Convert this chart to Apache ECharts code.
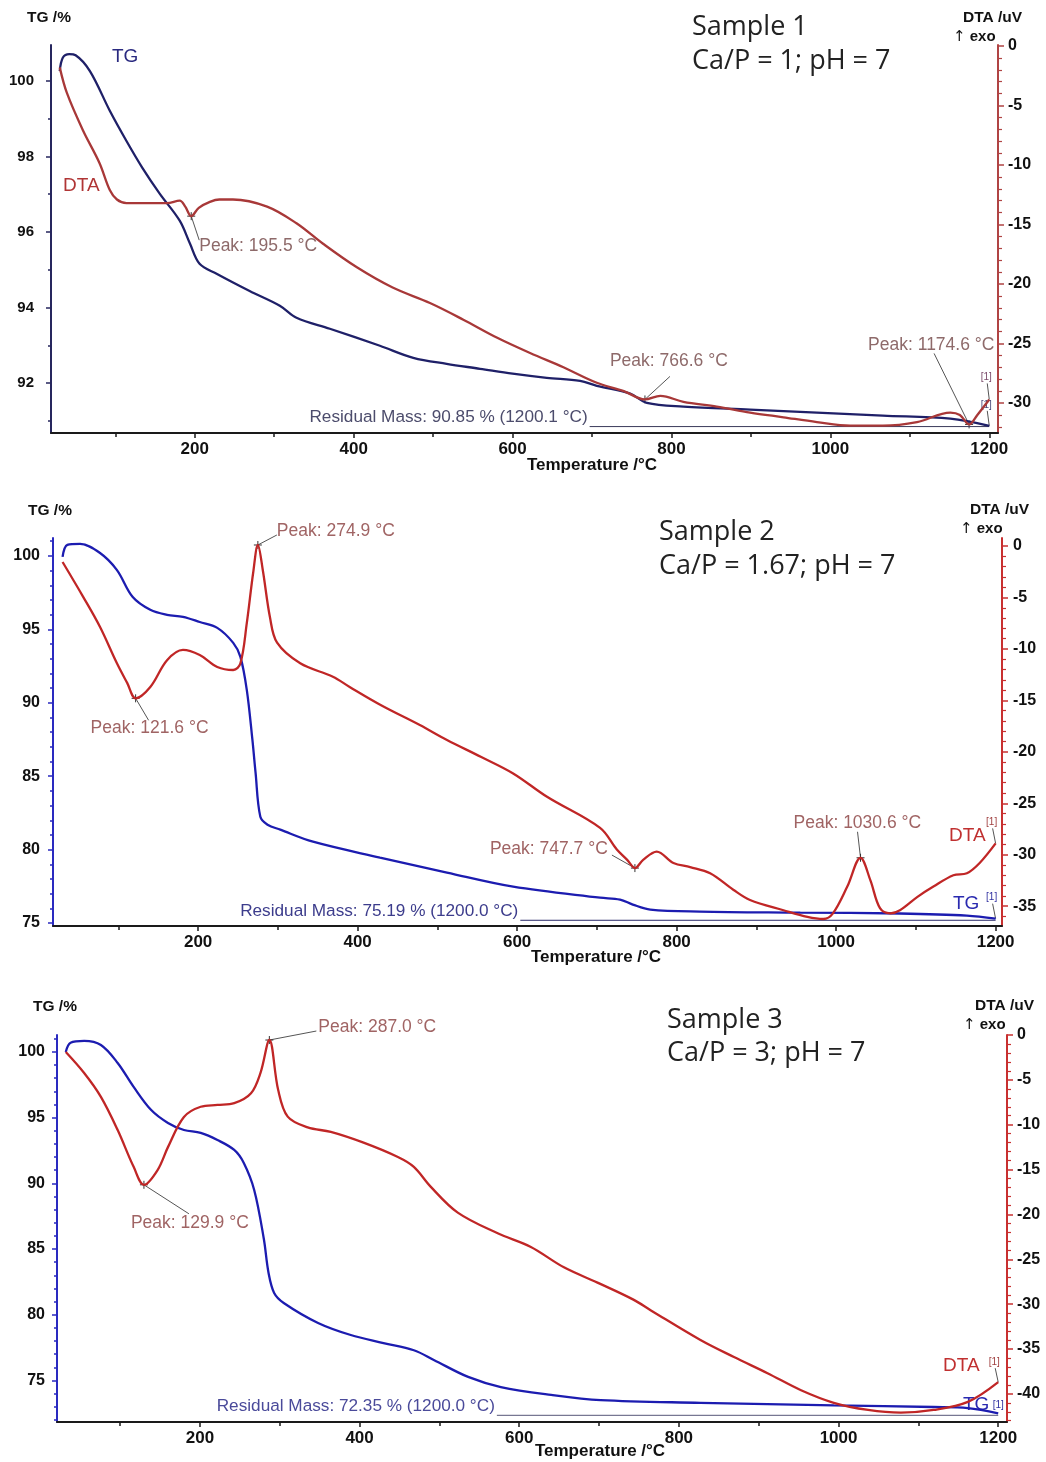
<!DOCTYPE html>
<html><head><meta charset="utf-8">
<script src="https://cdn.jsdelivr.net/npm/echarts@6/dist/echarts.min.js"></script>
<style>html,body{margin:0;padding:0;background:#fff}#c{width:1046px;height:1462px}</style>
</head><body><div id="c"></div>
<script>
// ---------- DATA ----------
const xLabelValues = [200, 400, 600, 800, 1000, 1200];
const xMinorValues = [100, 300, 500, 700, 900, 1100];

// Sample 1
const s1TgT = [30, 34, 42, 50, 68, 93, 114, 134, 156, 181, 194, 206, 228, 269, 307, 328, 370, 433, 475, 517, 559, 600, 643, 685, 706, 748, 769, 815, 899, 983, 1066, 1151, 1200];
const s1Tg  = [100.26, 100.62, 100.71, 100.68, 100.26, 99.21, 98.41, 97.70, 97.01, 96.30, 95.69, 95.16, 94.89, 94.44, 94.05, 93.73, 93.44, 92.99, 92.67, 92.51, 92.38, 92.25, 92.14, 92.06, 91.93, 91.72, 91.48, 91.38, 91.30, 91.22, 91.14, 91.06, 90.87];
const s1DtaT = [30, 39, 59, 80, 93, 102, 114, 140, 165, 181, 188, 195.5, 205, 219, 231, 248, 291, 328, 361, 404, 449, 496, 538, 580, 622, 664, 706, 740, 766.6, 786, 815, 857, 899, 941, 983, 1025, 1066, 1109, 1151, 1163, 1174.6, 1185, 1200];
const s1Dta  = [-1.8, -3.95, -7.06, -9.83, -12.1, -12.9, -13.2, -13.2, -13.2, -13.0, -13.5, -14.3, -13.6, -13.1, -12.9, -12.9, -13.5, -14.9, -16.6, -18.6, -20.3, -21.6, -23.0, -24.5, -25.8, -27.0, -28.3, -29.0, -29.7, -29.4, -29.9, -30.3, -30.8, -31.2, -31.6, -31.9, -31.9, -31.6, -30.8, -31.0, -31.8, -31.0, -29.7];
const s1TgLabels = [92, 94, 96, 98, 100];
const s1TgMinor = [91, 93, 95, 97, 99];
const s1DtaLabels = [0, -5, -10, -15, -20, -25, -30];
const s1PeakT = [195.5, 766.6, 1174.6];
const s1PeakV = [-14.3, -29.7, -31.8];
const s1Residual = 90.85;

// Sample 2
const s2TgT = [30, 36, 52, 77, 98, 118, 140, 161, 181, 202, 224, 244, 253, 261, 268, 272, 278, 287, 303, 344, 428, 512, 595, 704, 729, 745, 767, 829, 955, 1080, 1164, 1200];
const s2Tg  = [99.93, 100.75, 100.82, 100.2, 99.05, 97.2, 96.33, 95.99, 95.85, 95.5, 95.1, 94.08, 93.13, 90.88, 87.5, 85.24, 82.24, 81.7, 81.36, 80.54, 79.46, 78.44, 77.48, 76.73, 76.6, 76.26, 75.92, 75.78, 75.71, 75.65, 75.51, 75.3];
const s2DtaT = [30, 56, 77, 98, 111, 121.6, 140, 161, 181, 202, 224, 244, 253, 261, 269, 274.9, 281, 290, 299, 328, 369, 390, 430, 478, 512, 555, 595, 638, 704, 725, 738, 747.7, 758, 775, 796, 817, 842, 871, 892, 934, 964, 984, 996, 1014, 1030.6, 1043, 1055, 1068, 1080, 1102, 1122, 1147, 1164, 1180, 1200];
const s2Dta  = [-1.55, -4.96, -7.87, -11.37, -13.3, -14.8, -13.7, -11.1, -10.1, -10.6, -11.76, -12.05, -11.4, -7.5, -2.6, 0.1, -2.3, -6.9, -9.4, -11.4, -12.7, -13.7, -15.5, -17.4, -18.85, -20.5, -22.1, -24.4, -27.4, -29.5, -30.5, -31.3, -30.5, -29.7, -30.8, -31.2, -31.8, -33.4, -34.4, -35.4, -36.05, -36.25, -35.7, -33.1, -30.3, -32.5, -35.2, -35.7, -35.4, -34.1, -33.1, -32.0, -31.8, -30.8, -28.9];
const s2TgLabels = [75, 80, 85, 90, 95, 100];
const s2DtaLabels = [0, -5, -10, -15, -20, -25, -30, -35];
const s2PeakT = [274.9, 121.6, 747.7, 1030.6];
const s2PeakV = [0.1, -14.8, -31.3, -30.3];
const s2Residual = 75.19;

// Sample 3
const s3TgT = [32, 38, 55, 76, 97, 117, 139, 160, 180, 201, 222, 243, 255, 268, 280, 286, 293, 305, 348, 389, 430, 468, 493, 536, 577, 640, 702, 827, 994, 1119, 1162, 1200];
const s3Tg  = [100, 100.7, 100.84, 100.53, 99.16, 97.34, 95.58, 94.6, 94.06, 93.84, 93.3, 92.54, 91.55, 89.5, 85.8, 83.18, 81.66, 80.9, 79.38, 78.46, 77.85, 77.3, 76.56, 75.27, 74.5, 73.9, 73.5, 73.3, 73.1, 72.98, 72.9, 72.5];
const s3DtaT = [32, 55, 76, 97, 117, 129.9, 147, 160, 180, 201, 222, 243, 264, 276, 287, 298, 310, 335, 364, 405, 448, 468, 489, 523, 573, 614, 656, 698, 743, 765, 827, 869, 911, 953, 994, 1037, 1078, 1119, 1162, 1200];
const s3Dta  = [-1.9, -4.24, -6.9, -10.6, -14.7, -16.7, -15.05, -12.5, -9.14, -8.0, -7.8, -7.6, -6.5, -4.2, -0.56, -6.1, -9.1, -10.3, -10.8, -12.0, -13.6, -14.7, -16.9, -19.8, -22.1, -23.6, -25.9, -27.6, -29.5, -30.7, -34.0, -35.9, -37.7, -39.6, -41.0, -41.8, -42.1, -41.8, -40.9, -38.7];
const s3TgLabels = [75, 80, 85, 90, 95, 100];
const s3DtaLabels = [0, -5, -10, -15, -20, -25, -30, -35, -40];
const s3PeakT = [287.0, 129.9];
const s3PeakV = [-0.56, -16.7];
const s3Residual = 72.35;

// ---------- helpers ----------
function range(a, b, step) { const r = []; for (let v = a; step > 0 ? v <= b : v >= b; v += step) r.push(v); return r; }
function zip(a, b) { return a.map((t, i) => [t, b[i]]); }

const FONT = 'Liberation Sans, Arial, sans-serif';

const panels = [
  { grid: { left: 51, top: 45, width: 947, height: 388 }, x: [19, 1211], tg: [90.68, 100.95], dta: [-32.52, 0.08],
    tgLab: s1TgLabels, tgMin: s1TgMinor, dtaLab: s1DtaLabels, dtaMin: range(-1, -32, -1).filter(v => v % 5 !== 0),
    tgColor: '#1f2068', dtaColor: '#a83838', leftAxis: '#26265e', rightAxis: '#b04444',
    leftFont: 15, leftMargin: 17, rightFont: 16, rightMargin: 10,
    tgT: s1TgT, tgV: s1Tg, dtaT: s1DtaT, dtaV: s1Dta },
  { grid: { left: 53, top: 538, width: 949, height: 388 }, x: [18, 1208], tg: [74.8, 101.22], dta: [-36.93, 0.78],
    tgLab: s2TgLabels, tgMin: range(76, 101, 1).filter(v => v % 5 !== 0), dtaLab: s2DtaLabels, dtaMin: range(-1, -36, -1).filter(v => v % 5 !== 0),
    tgColor: '#1c1cb0', dtaColor: '#c02626', leftAxis: '#2a2ac0', rightAxis: '#c83030',
    leftFont: 16, leftMargin: 13, rightFont: 16, rightMargin: 11,
    tgT: s2TgT, tgV: s2Tg, dtaT: s2DtaT, dtaV: s2Dta },
  { grid: { left: 57, top: 1035, width: 950, height: 387 }, x: [21, 1211], tg: [71.84, 101.29], dta: [-43.14, 0],
    tgLab: s3TgLabels, tgMin: range(72, 101, 1).filter(v => v % 5 !== 0), dtaLab: s3DtaLabels, dtaMin: range(-1, -43, -1).filter(v => v % 5 !== 0),
    tgColor: '#1c1cb0', dtaColor: '#c02626', leftAxis: '#2a2ac0', rightAxis: '#c83030',
    leftFont: 16, leftMargin: 12, rightFont: 16, rightMargin: 10,
    tgT: s3TgT, tgV: s3Tg, dtaT: s3DtaT, dtaV: s3Dta }
];

const grid = [], xAxis = [], yAxis = [], series = [];
const labelStyle = { fontFamily: FONT, fontWeight: 'bold', color: '#111' };
const plain = v => String(v);

panels.forEach((p, g) => {
  grid.push(Object.assign({ containLabel: false }, p.grid));
  xAxis.push({ type: 'value', gridIndex: g, min: p.x[0], max: p.x[1], position: 'bottom',
    axisLine: { onZero: false, lineStyle: { color: '#1a1a1a', width: 2 } },
    axisTick: { customValues: xLabelValues, length: 5, lineStyle: { color: '#1a1a1a', width: 1.5 } },
    axisLabel: Object.assign({ customValues: xLabelValues, margin: 8, fontSize: 17, formatter: plain }, labelStyle),
    splitLine: { show: false } });
  xAxis.push({ type: 'value', gridIndex: g, min: p.x[0], max: p.x[1], position: 'bottom',
    axisLine: { show: false, onZero: false },
    axisTick: { customValues: xMinorValues, length: 4, lineStyle: { color: '#1a1a1a', width: 1.5 } },
    axisLabel: { show: false }, splitLine: { show: false } });
  yAxis.push({ type: 'value', gridIndex: g, min: p.tg[0], max: p.tg[1], position: 'left',
    axisLine: { show: true, onZero: false, lineStyle: { color: p.leftAxis, width: 2 } },
    axisTick: { show: true, customValues: p.tgLab, length: 5, lineStyle: { color: p.leftAxis, width: 1.5 } },
    axisLabel: Object.assign({ customValues: p.tgLab, margin: p.leftMargin, fontSize: p.leftFont, formatter: plain }, labelStyle),
    splitLine: { show: false } });
  yAxis.push({ type: 'value', gridIndex: g, min: p.tg[0], max: p.tg[1], position: 'left',
    axisLine: { show: false, onZero: false },
    axisTick: { show: true, customValues: p.tgMin, length: 3, lineStyle: { color: p.leftAxis, width: 1.5 } },
    axisLabel: { show: false }, splitLine: { show: false } });
  yAxis.push({ type: 'value', gridIndex: g, min: p.dta[0], max: p.dta[1], position: 'right',
    axisLine: { show: true, onZero: false, lineStyle: { color: p.rightAxis, width: 2 } },
    axisTick: { show: true, customValues: p.dtaLab, length: 6, lineStyle: { color: p.rightAxis, width: 1.5 } },
    axisLabel: Object.assign({ customValues: p.dtaLab, margin: p.rightMargin, fontSize: p.rightFont, formatter: plain }, labelStyle),
    splitLine: { show: false } });
  yAxis.push({ type: 'value', gridIndex: g, min: p.dta[0], max: p.dta[1], position: 'right',
    axisLine: { show: false, onZero: false },
    axisTick: { show: true, customValues: p.dtaMin, length: 4, lineStyle: { color: p.rightAxis, width: 1.2 } },
    axisLabel: { show: false }, splitLine: { show: false } });

  series.push({ type: 'line', name: 'TG' + (g + 1), xAxisIndex: 2 * g, yAxisIndex: 4 * g,
    data: zip(p.tgT, p.tgV), showSymbol: false, smooth: 0.35, silent: true,
    lineStyle: { color: p.tgColor, width: 2.3 } });
  series.push({ type: 'line', name: 'DTA' + (g + 1), xAxisIndex: 2 * g, yAxisIndex: 4 * g + 2,
    data: zip(p.dtaT, p.dtaV), showSymbol: false, smooth: 0.35, silent: true,
    lineStyle: { color: p.dtaColor, width: 2.3 } });
});

const chart = echarts.init(document.getElementById('c'), null, { renderer: 'canvas' });
chart.setOption({ animation: false, backgroundColor: '#fff', grid, xAxis, yAxis, series });

// ---------- annotations ----------
function px(g, axis, T, v) {
  return chart.convertToPixel({ xAxisIndex: 2 * g, yAxisIndex: 4 * g + (axis === 'tg' ? 0 : 2) }, [T, v]);
}
const gfx = [];
function text(x, y, str, opt) {
  gfx.push({ type: 'text', x, y, silent: true, style: Object.assign({ text: str, fontFamily: FONT, fontSize: 16, fill: '#111', verticalAlign: 'middle', align: 'left' }, opt || {}) });
}
function line(x1, y1, x2, y2, color, w) {
  gfx.push({ type: 'line', silent: true, shape: { x1, y1, x2, y2 }, style: { stroke: color, lineWidth: w || 1 } });
}
function cross(x, y, color) {
  line(x - 4, y, x + 4, y, color, 1); line(x, y - 4, x, y + 4, color, 1);
}

// peak layouts: [leaderDx, leaderDy, textDx, textDy]
const peakSets = [
  { g: 0, T: s1PeakT, V: s1PeakV, layout: [[8, 24, 8, 30], [25, -23, -35, -38], [-35, -71, -101, -79]], color: '#8e6a6a' },
  { g: 1, T: s2PeakT, V: s2PeakV, layout: [[19, -10, 19, -14], [13, 22, -45, 30], [-23, -13, -145, -19], [-3, -26, -67, -35]], color: '#a06464' },
  { g: 2, T: s3PeakT, V: s3PeakV, layout: [[47, -9, 49, -13], [45, 29, -13, 38]], color: '#a06464' }
];
peakSets.forEach(ps => {
  ps.T.forEach((t, i) => {
    const [x, y] = px(ps.g, 'dta', t, ps.V[i]);
    const L = ps.layout[i];
    line(x, y, x + L[0], y + L[1], '#555', 1);
    cross(x, y, '#333');
    text(x + L[2], y + L[3], 'Peak: ' + t.toFixed(1) + ' °C', { fill: ps.color, fontSize: 17.5 });
  });
});

// residual mass
const resSets = [
  { g: 0, v: s1Residual, t0: 697, label: 'Residual Mass: ' + s1Residual.toFixed(2) + ' % (1200.1 °C)', color: '#4c4c6c', lc: '#3a3a5a' },
  { g: 1, v: s2Residual, t0: 604, label: 'Residual Mass: ' + s2Residual.toFixed(2) + ' % (1200.0 °C)', color: '#3c3c8c', lc: '#2a2a6a' },
  { g: 2, v: s3Residual, t0: 572, label: 'Residual Mass: ' + s3Residual.toFixed(2) + ' % (1200.0 °C)', color: '#4a4a9a', lc: '#555577' }
];
resSets.forEach(r => {
  const [x1, y1] = px(r.g, 'tg', r.t0, r.v);
  const [x2] = px(r.g, 'tg', 1200, r.v);
  line(x1, y1, x2, y1, r.lc, 1);
  text(x1 - 2, y1 - 9, r.label, { align: 'right', fill: r.color, fontSize: 17.2 });
});

// series-end "[1]" markers
panels.forEach((p, g) => {
  const [dx, dy] = px(g, 'dta', p.dtaT[p.dtaT.length - 1], p.dtaV[p.dtaV.length - 1]);
  const [tx, ty] = px(g, 'tg', p.tgT[p.tgT.length - 1], p.tgV[p.tgV.length - 1]);
  const off = [[[-3, -22], [-3, -21]], [[-4, -21], [-4, -21]], [[-4, -20], [0, -8]]][g];
  text(dx + off[0][0], dy + off[0][1], '[1]', { fontSize: 10, fill: g === 0 ? '#7a4a6a' : '#a04040', align: 'center' });
  line(dx + off[0][0] + 1, dy + off[0][1] + 6, dx, dy, '#555', 1);
  text(tx + off[1][0], ty + off[1][1], '[1]', { fontSize: 10, fill: g === 0 ? '#4a4a7a' : '#3030a0', align: 'center' });
  if (g < 2) line(tx + off[1][0] + 1, ty + off[1][1] + 6, tx, ty, '#555', 1);
});

// curve name labels
text(112, 57, 'TG', { fontSize: 19, fill: '#2a2a80' });
text(63, 186, 'DTA', { fontSize: 19, fill: '#b03535' });
text(949, 836, 'DTA', { fontSize: 19, fill: '#c03030' });
text(953, 904, 'TG', { fontSize: 19, fill: '#2a2ab0' });
text(943, 1366, 'DTA', { fontSize: 19, fill: '#c03030' });
text(963, 1405, 'TG', { fontSize: 19, fill: '#2a2ab0' });

// axis names & titles
const titleFont = 'Open Sans, Noto Sans, sans-serif';
[
  { tg: [27, 18], dta: [963, 18], exo: [953, 37], temp: [592, 465], t1: [692, 27], t2: [692, 61], s: 'Sample 1', c: 'Ca/P = 1; pH = 7' },
  { tg: [28, 511], dta: [970, 510], exo: [960, 529], temp: [596, 957], t1: [659, 532], t2: [659, 566], s: 'Sample 2', c: 'Ca/P = 1.67; pH = 7' },
  { tg: [33, 1007], dta: [975, 1006], exo: [963, 1025], temp: [600, 1451], t1: [667, 1020], t2: [667, 1053], s: 'Sample 3', c: 'Ca/P = 3; pH = 7' }
].forEach(a => {
  text(a.tg[0], a.tg[1], 'TG /%', { fontWeight: 'bold', fontSize: 15.5 });
  text(a.dta[0], a.dta[1], 'DTA /uV', { fontWeight: 'bold', fontSize: 15.5 });
  text(a.exo[0], a.exo[1], '{a|↑} exo', { fontWeight: 'bold', fontSize: 15,
    rich: { a: { fontFamily: 'DejaVu Sans', fontWeight: 'normal', fontSize: 15, fill: '#111' } } });
  text(a.temp[0], a.temp[1], 'Temperature /°C', { fontWeight: 'bold', fontSize: 17, align: 'center' });
  text(a.t1[0], a.t1[1], a.s, { fontFamily: titleFont, fontSize: 27, fill: '#222' });
  text(a.t2[0], a.t2[1], a.c, { fontFamily: titleFont, fontSize: 27, fill: '#222' });
});

chart.setOption({ graphic: gfx });
</script></body></html>
